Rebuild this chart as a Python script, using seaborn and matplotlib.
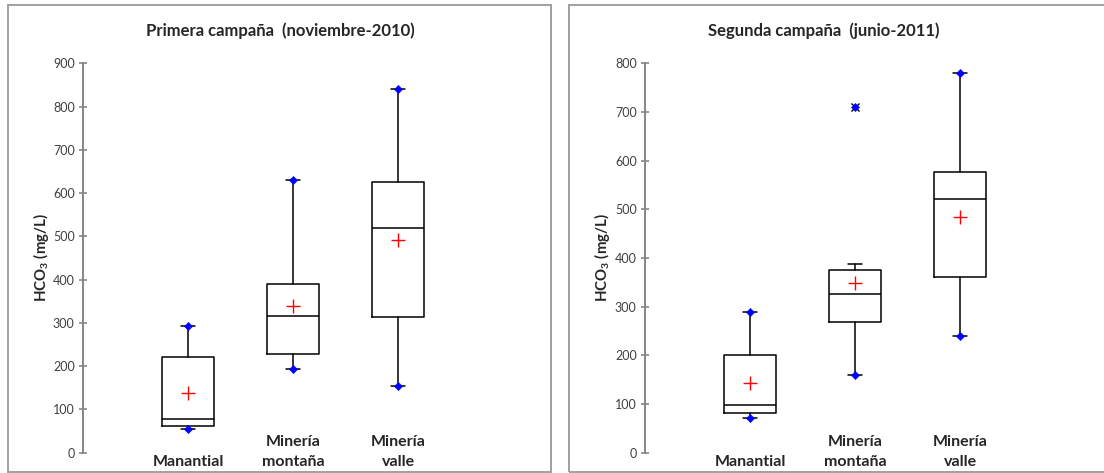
import matplotlib
matplotlib.use("Agg")
import matplotlib.pyplot as plt
from matplotlib.patches import Rectangle
from matplotlib.transforms import blended_transform_factory
import numpy as np
import seaborn as sns

# Data (HCO3, mg/L)
categories = ["Manantial", "Minería\nmontaña", "Minería\nvalle"]

# Primera campaña (noviembre-2010)
c1_min = [54, 193, 155]
c1_q1 = [62, 229, 313]
c1_med = [78, 316, 520]
c1_q3 = [222, 391, 626]
c1_whishi = [293, 630, 840]
c1_max = [293, 630, 840]
c1_mean = [137, 340, 491]
c1_fliers = [[], [], []]

# Segunda campaña (junio-2011)
c2_min = [71, 160, 239]
c2_q1 = [81, 268, 360]
c2_med = [97, 326, 521]
c2_q3 = [200, 376, 577]
c2_whishi = [290, 387, 781]
c2_max = [290, 710, 781]
c2_mean = [143, 348, 484]
c2_fliers = [[], [710], []]

W, H = 1104, 473

sns.set_style("white")
plt.rcParams["font.family"] = ["Lato", "DejaVu Sans"]
plt.rcParams["mathtext.fontset"] = "custom"
plt.rcParams["mathtext.rm"] = "Lato"
plt.rcParams["mathtext.bf"] = "Lato:bold"

fig = plt.figure(figsize=(W / 100, H / 100), dpi=100)


def px(x0, y0, w, h):
    # pixel box (top-left origin) -> figure fraction
    return [x0 / W, 1 - (y0 + h) / H, w / W, h / H]


def panel(frame_x0, frame_x1, ax_left, title, title_x, ylabel_x, ymax,
          mins, q1, med, q3, whishi, maxs, means, fliers):
    # outer chart frame
    fig.patches.append(Rectangle((frame_x0 / W, 1 - 472 / H),
                                 (frame_x1 - frame_x0) / W, (472 - 5) / H,
                                 transform=fig.transFigure, fill=False,
                                 edgecolor="#a0a0a0", linewidth=1.4))
    ax = fig.add_axes(px(ax_left, 63.3, 420, 389.4))

    stats = []
    for i in range(len(categories)):
        stats.append(dict(whislo=mins[i], q1=q1[i], med=med[i], q3=q3[i],
                          whishi=whishi[i], fliers=fliers[i]))
    ax.bxp(stats, positions=np.arange(len(categories)), widths=0.5,
           capwidths=0.13, showfliers=True,
           boxprops=dict(color="black", linewidth=1.1),
           medianprops=dict(color="black", linewidth=1.1),
           whiskerprops=dict(color="black", linewidth=1.1),
           capprops=dict(color="black", linewidth=1.1),
           flierprops=dict(marker="x", markeredgecolor="black",
                           markersize=6, markeredgewidth=1.0))

    xs = np.arange(len(categories))
    sns.scatterplot(x=xs, y=mins, ax=ax, marker="D", color="#0000ff",
                    s=18, edgecolor="#0000ff", zorder=4)
    sns.scatterplot(x=xs, y=maxs, ax=ax, marker="D", color="#0000ff",
                    s=18, edgecolor="#0000ff", zorder=4)
    sns.scatterplot(x=xs, y=means, ax=ax, marker="+", color="#ff0000",
                    s=110, linewidth=1.0, zorder=4)

    ax.set_xlim(-1, 3)
    ax.set_ylim(0, ymax)
    ax.set_yticks(np.arange(0, ymax + 1, 100))
    ax.set_xticks([])
    for s in ["top", "right", "bottom"]:
        ax.spines[s].set_visible(False)
    ax.spines["left"].set_color("#868686")
    ax.spines["left"].set_linewidth(1.4)
    ax.tick_params(axis="y", direction="inout", length=6, width=1.2,
                   color="#868686", labelsize=9, labelcolor="#404040", pad=3,
                   left=True)
    ax.patch.set_alpha(0)

    trans = blended_transform_factory(ax.transData, fig.transFigure)
    for i, lab in enumerate(categories):
        ax.text(i, 1 - 466 / H, lab, transform=trans, ha="center",
                va="baseline", fontsize=11.5, fontweight="bold",
                linespacing=1.55)

    fig.text(title_x / W, 1 - 31 / H, title, ha="center", va="center",
             fontsize=12, fontweight="bold")
    fig.text(ylabel_x / W, 1 - 258 / H, r"HCO$_\mathbf{3}$ (mg/L)",
             rotation=90, ha="center", va="center", fontsize=10.8,
             fontweight="bold")
    return ax


panel(7.5, 551, 83, "Primera campaña  (noviembre-2010)", 280, 41, 900,
      c1_min, c1_q1, c1_med, c1_q3, c1_whishi, c1_max, c1_mean, c1_fliers)
panel(569, 1110, 645, "Segunda campaña  (junio-2011)", 824, 602, 800,
      c2_min, c2_q1, c2_med, c2_q3, c2_whishi, c2_max, c2_mean, c2_fliers)

fig.savefig("out.png", dpi=100, facecolor="white")
